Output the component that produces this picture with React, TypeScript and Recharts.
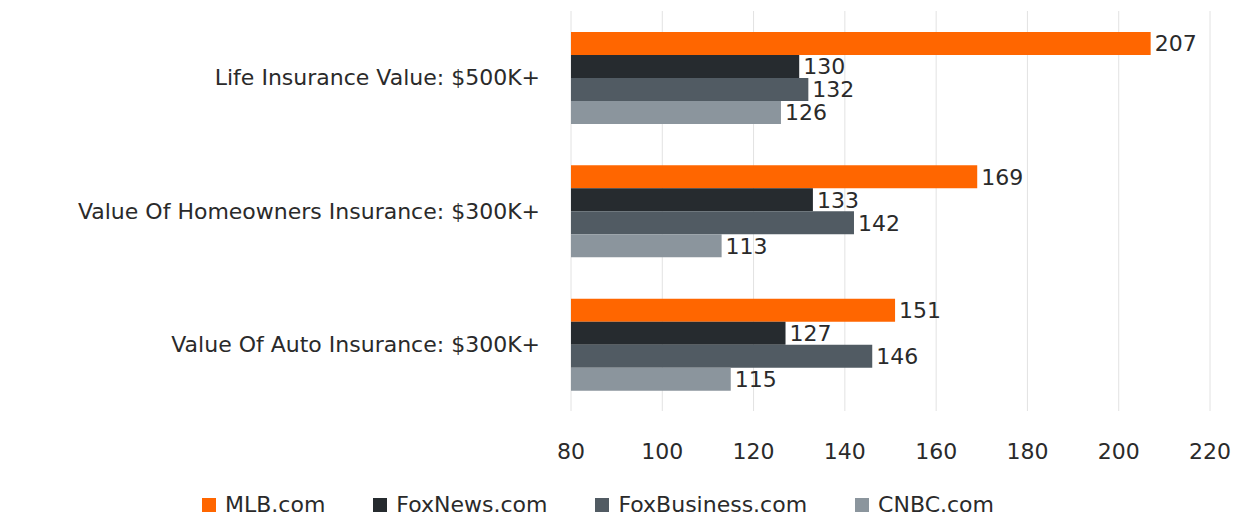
import React from "react";
import {
  Bar,
  BarChart,
  CartesianGrid,
  LabelList,
  Legend,
  XAxis,
  YAxis,
} from "recharts";

const categories = [
  "Life Insurance Value: $500K+",
  "Value Of Homeowners Insurance: $300K+",
  "Value Of Auto Insurance: $300K+",
];
const mlb = [207, 169, 151];
const foxNews = [130, 133, 127];
const foxBusiness = [132, 142, 146];
const cnbc = [126, 113, 115];
const xTicks = [80, 100, 120, 140, 160, 180, 200, 220];

const SERIES = [
  { key: "mlb", label: "MLB.com", color: "#FF6600" },
  { key: "foxNews", label: "FoxNews.com", color: "#262B2F" },
  { key: "foxBusiness", label: "FoxBusiness.com", color: "#515B63" },
  { key: "cnbc", label: "CNBC.com", color: "#8B959D" },
];

const data = categories.map((name, i) => ({
  name,
  mlb: mlb[i],
  foxNews: foxNews[i],
  foxBusiness: foxBusiness[i],
  cnbc: cnbc[i],
}));

const FONT = "'DejaVu Sans', sans-serif";
const TEXT = "#2a2a2a";

function LegendContent() {
  return (
    <div
      style={{
        display: "flex",
        justifyContent: "center",
        gap: 48,
        fontFamily: FONT,
        fontSize: 22,
        color: TEXT,
        paddingRight: 14,
      }}
    >
      {SERIES.map((s) => (
        <div key={s.key} style={{ display: "flex", alignItems: "center" }}>
          <span
            style={{
              width: 14,
              height: 14,
              background: s.color,
              display: "inline-block",
              marginRight: 9,
            }}
          />
          {s.label}
        </div>
      ))}
    </div>
  );
}

export default function App() {
  return (
    <div style={{ position: "absolute", left: 0, top: 0, background: "#fff" }}>
      <BarChart
        width={1234}
        height={518}
        data={data}
        layout="vertical"
        margin={{ top: 11, right: 24, bottom: 0, left: 0 }}
        barCategoryGap={20}
        barGap={0}
      >
        <CartesianGrid horizontal={false} stroke="#E2E2E2" />
        <XAxis
          type="number"
          domain={[80, 220]}
          ticks={xTicks}
          axisLine={false}
          tickLine={false}
          tickSize={0}
          tickMargin={32}
          height={81}
          tick={{ fontSize: 22, fill: TEXT, fontFamily: FONT }}
        />
        <YAxis
          type="category"
          dataKey="name"
          width={571}
          axisLine={false}
          tickLine={false}
          tickSize={0}
          tickMargin={31}
          tick={{ fontSize: 22, fill: TEXT, fontFamily: FONT }}
        />
        <Legend verticalAlign="bottom" height={26} content={<LegendContent />} />
        {SERIES.map((s) => (
          <Bar
            key={s.key}
            dataKey={s.key}
            name={s.label}
            fill={s.color}
            barSize={23}
            isAnimationActive={false}
          >
            <LabelList
              dataKey={s.key}
              position="right"
              offset={4}
              style={{ fontSize: 22, fill: TEXT, fontFamily: FONT }}
            />
          </Bar>
        ))}
      </BarChart>
    </div>
  );
}
